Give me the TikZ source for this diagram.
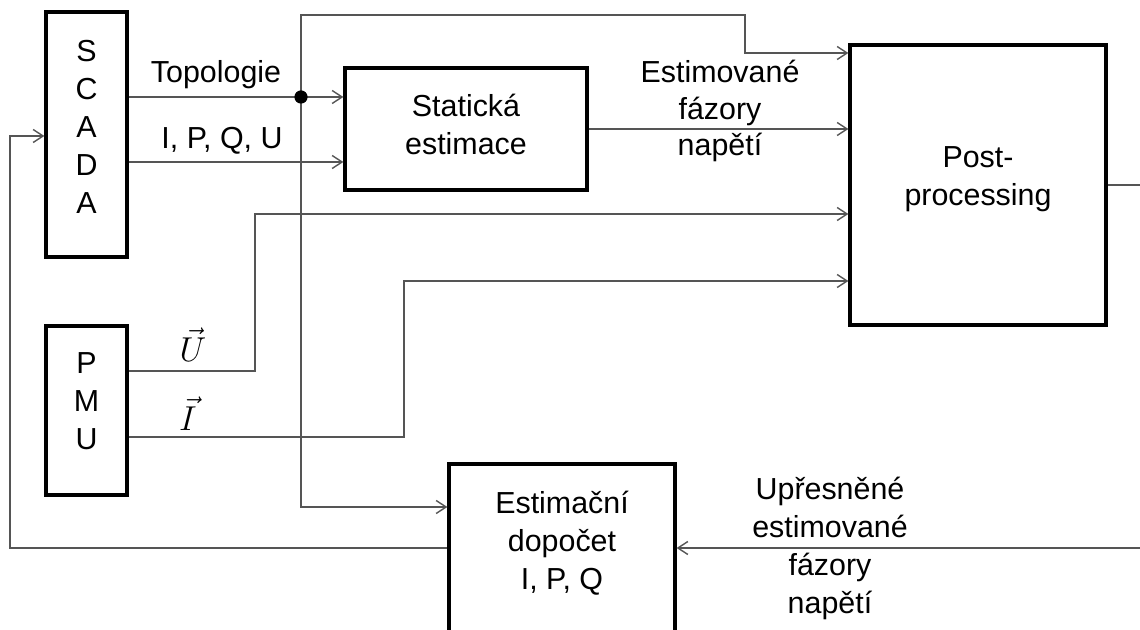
\documentclass[tikz,border=0pt]{standalone}
\usepackage{fontspec}
\setmainfont{Liberation Sans}
\usetikzlibrary{arrows.meta}
\definecolor{wire}{HTML}{555555}
\tikzset{
  every picture/.style={font=\fontsize{15.2}{19}\selectfont, >={Straight Barb[length=5pt,width=6.5pt]}},
  blok/.style={draw=black, line width=1.6pt, inner sep=0pt},
  popis/.style={align=center, inner sep=0pt},
  spoj/.style={draw=wire, line width=0.7pt},
}

\begin{document}
\begin{tikzpicture}[x=0.5pt,y=-0.5pt]
\useasboundingbox (0,0) rectangle (1140,630);
\node[blok,minimum width=40.5pt,minimum height=122.5pt] (scada) at (86.5,134.5) {};
\node[popis] (scadaT) at (86.5,127) {S\\C\\A\\D\\A};
\node[blok,minimum width=40.5pt,minimum height=84.5pt] (pmu) at (86.5,410.5) {};
\node[popis] (pmuT) at (86.5,401) {P\\M\\U};
\node[blok,minimum width=121pt,minimum height=61pt] (stat) at (466,129) {};
\node[popis] (statT) at (466,124) {Statická\\estimace};
\node[blok,minimum width=128pt,minimum height=140pt] (post) at (978,185) {};
\node[popis] (postT) at (978,179) {Post-\\processing};
\node[blok,minimum width=113pt,minimum height=98pt] (est) at (562,562) {};
\node[popis] (estT) at (562,543) {Estimační\\dopočet\\I, P, Q};
\coordinate (uzel) at (301,97);
\coordinate (vystup) at (1150,185);
\coordinate (vstup) at (1150,548);
\draw[spoj,->] (scada.east |- uzel) -- (stat.west |- uzel);
\draw[spoj,->] (scada.east |- 0,162) -- (stat.west |- 0,162);
\draw[spoj,->] (uzel) |- (745,15) |- (post.west |- 0,53);
\draw[spoj,->] (uzel) |- (est.west |- 0,507);
\fill (uzel) circle (3.3pt);
\draw[spoj,->] (stat.east) -- (post.west |- stat.east);
\draw[spoj,->] (pmu.east |- 0,371) -| (255,214) -- (post.west |- 0,214);
\draw[spoj,->] (pmu.east |- 0,437) -| (404,281) -- (post.west |- 0,281);
\draw[spoj] (post.east) -- (vystup);
\draw[spoj,->] (vstup) -- (est.east |- vstup);
\draw[spoj,->] (est.west |- vstup) -| (10,136) -- (scada.west |- 0,136);
\node[popis] (topo) at (216,75) {Topologie};
\node[popis] (mer) at (222,141) {I, P, Q, U};
\node[popis,font=\fontsize{15.2}{18.3}\selectfont] (faz) at (720,111) {Estimované\\fázory\\napětí};
\node[popis,font=\fontsize{17}{20}\selectfont] (vU) at (193,345) {$\vec{U}$};
\node[popis,font=\fontsize{17}{20}\selectfont] (vI) at (188,414) {$\vec{I}$};
\node[popis] (upr) at (830,548) {Upřesněné\\estimované\\fázory\\napětí};
\end{tikzpicture}
\end{document}
